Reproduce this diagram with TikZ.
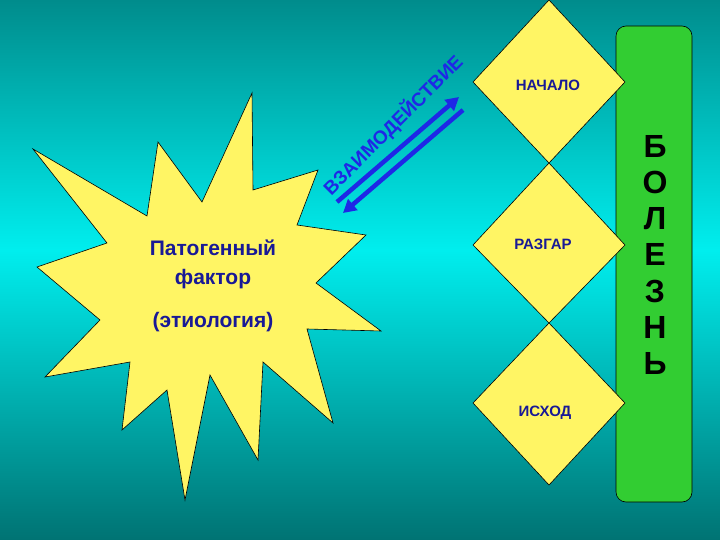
\documentclass[tikz,border=0pt]{standalone}
\usepackage{fontspec}
\setmainfont{Liberation Sans}
\usetikzlibrary{arrows.meta}
\definecolor{bgtop}{RGB}{0,140,140}
\definecolor{bgmid}{RGB}{0,238,238}
\definecolor{bgbot}{RGB}{0,115,115}
\definecolor{yel}{RGB}{255,245,100}
\definecolor{grn}{RGB}{50,205,50}
\definecolor{txtblue}{RGB}{25,25,150}
\definecolor{arrblue}{RGB}{30,40,230}
\tikzset{
  stagebox/.style={draw=black, fill=yel, line width=0.6pt},
  stagetext/.style={font=\bfseries\fontsize{15}{17}\selectfont, text=txtblue},
  startext/.style={font=\bfseries\fontsize{21}{24}\selectfont, text=txtblue},
  lettertext/.style={font=\bfseries\fontsize{32}{34}\selectfont, text=black},
  inter/.style={draw=arrblue, line width=4.5pt, -{Triangle[length=13pt,width=14pt]}}
}
\begin{document}
\begin{tikzpicture}[x=1pt,y=-1pt]
\useasboundingbox (0,0) rectangle (720,540);
\shade[top color=bgtop, bottom color=bgmid] (0,0) rectangle (720,250);
\shade[top color=bgmid, bottom color=bgbot] (0,250) rectangle (720,540);
% star
\draw[stagebox] (33,149) -- (147,216) -- (158,142) -- (202,202) -- (252,93) -- (253,190) -- (318,170) -- (297,225) -- (366,235) -- (316,283) -- (381,331) -- (307,329) -- (333,423) -- (263,362) -- (258,460) -- (210,375) -- (185,500) -- (167,390) -- (122,430) -- (130,362) -- (45,377) -- (100,320) -- (37,267) -- (107,243) -- cycle;
\node[startext] (p1) at (213,248) {Патогенный};
\node[startext] (p2) at (213,279) {фактор};
\node[startext] (p3) at (213,322) {(этиология)};
% green bar
\draw[fill=grn, draw=black, line width=0.6pt, rounded corners=10pt] (616,26) rectangle (692,502);
\foreach \l [count=\i] in {Б,О,Л,Е,З,Н,Ь}
  \node[lettertext] (L\i) at (655,{146+(\i-1)*36.3}) {\l};
% diamonds
\draw[stagebox] (549,0) -- (625,82) -- (549,163) -- (473,82) -- cycle;
\draw[stagebox] (549,163) -- (625,245) -- (549,323) -- (473,245) -- cycle;
\draw[stagebox] (549,323) -- (625,403) -- (549,485) -- (473,403) -- cycle;
\node[stagetext] (d1) at (548,85) {НАЧАЛО};
\node[stagetext] (d2) at (543,244) {РАЗГАР};
\node[stagetext] (d3) at (545,413) {ИСХОД};
% interaction arrows
\coordinate (a1) at (337,202);
\coordinate (a2) at (459,97);
\coordinate (b1) at (463,110);
\coordinate (b2) at (343,213);
\draw[inter] (a1) -- (a2);
\draw[inter] (b1) -- (b2);
\node[font=\bfseries\fontsize{19}{21}\selectfont, text=arrblue, rotate=45, inner sep=0pt] (vz) at (393,125) {ВЗАИМОДЕЙСТВИЕ};
\end{tikzpicture}
\end{document}
